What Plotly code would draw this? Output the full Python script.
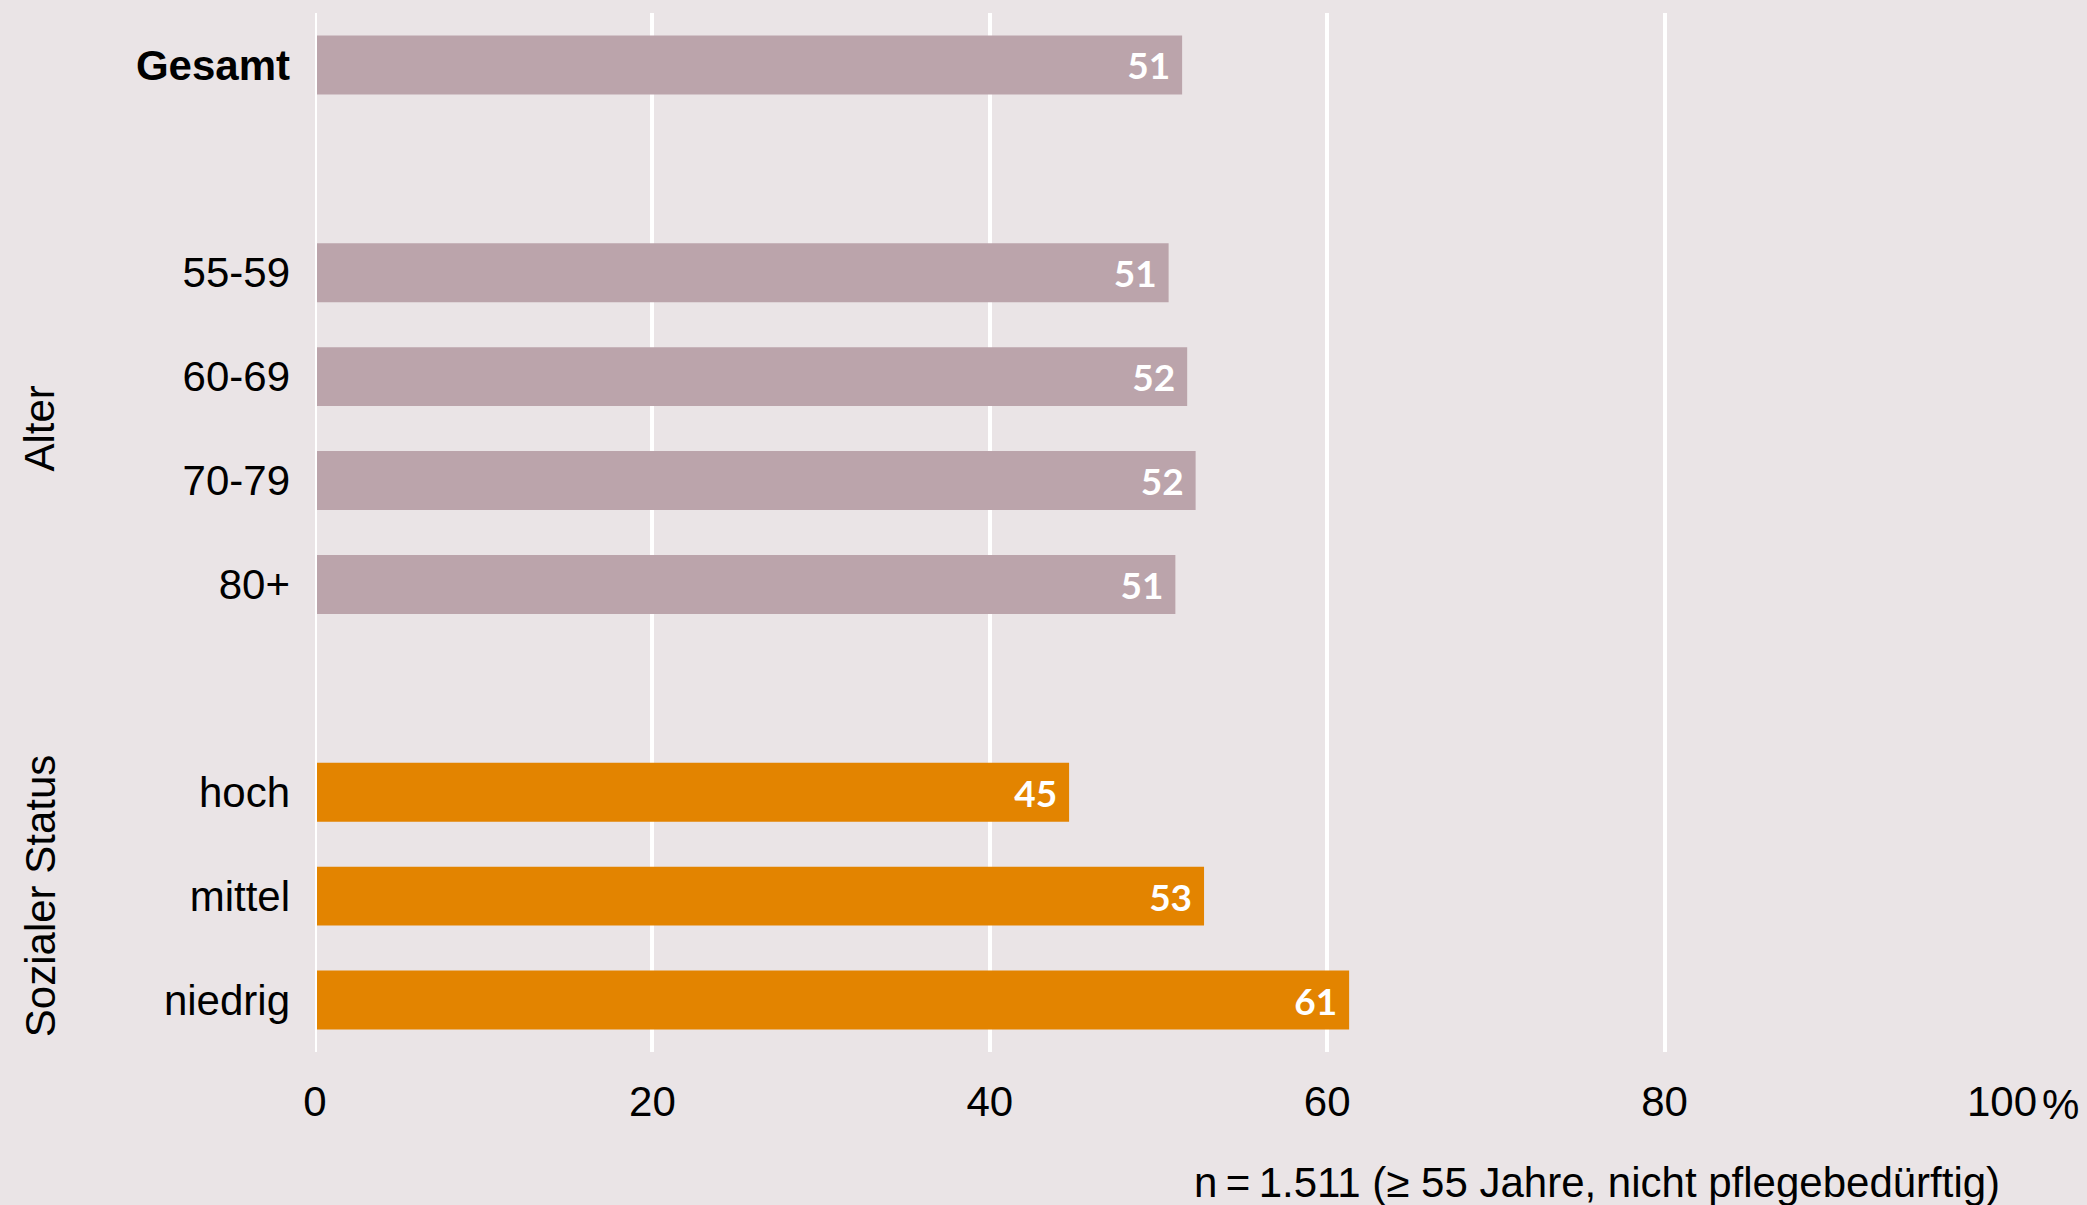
import plotly.graph_objects as go

# ---- data ----
age_categories = ["55-59", "60-69", "70-79", "80+"]
age_values = [50.6, 51.7, 52.2, 51.0]
age_labels = [51, 52, 52, 51]

status_categories = ["hoch", "mittel", "niedrig"]
status_values = [44.7, 52.7, 61.3]
status_labels = [45, 53, 61]

total_category = ["Gesamt"]
total_values = [51.4]
total_labels = [51]

group_titles = ["Alter", "Sozialer Status"]
x_tickvals = [0, 20, 40, 60, 80, 100]
x_ticktext = ["0", "20", "40", "60", "80", "100"]
note = "n\u2009=\u20091.511 (\u2265 55 Jahre, nicht pflegebedürftig)"

# ---- style ----
BG = "#EAE4E6"
MAUVE = "#BBA4AB"
ORANGE = "#E38400"
FONT = "Liberation Sans, Arial, sans-serif"
VAL_FONT = dict(family="Lato, Liberation Sans, sans-serif", size=37, color="white", weight="bold")

# category order with blank spacer slots
category_order = total_category + [" "] + age_categories + ["  "] + status_categories
tick_text = ["<b>" + c + "</b>" if c in total_category else c for c in category_order]


def bar(cats, vals, labels, color):
    return go.Bar(
        y=cats, x=vals, orientation="h",
        marker=dict(color=color, line=dict(width=0)),
        text=[f"{l}\u00a0" for l in labels],
        textposition="inside", insidetextanchor="end",
        textfont=VAL_FONT, width=0.567,
        hoverinfo="skip", showlegend=False,
    )


fig = go.Figure()
fig.add_trace(bar(total_category, total_values, total_labels, MAUVE))
fig.add_trace(bar(age_categories, age_values, age_labels, MAUVE))
fig.add_trace(bar(status_categories, status_values, status_labels, ORANGE))

top_m, bot_m = 13, 153
plot_h = 1205 - top_m - bot_m

annotations = []
# group titles
age_mid = (category_order.index(age_categories[0]) + category_order.index(age_categories[-1])) / 2
status_mid = (category_order.index(status_categories[0]) + category_order.index(status_categories[-1])) / 2
for title, ymid in zip(group_titles, [age_mid, status_mid]):
    annotations.append(dict(
        text=title, xref="paper", x=0, xshift=-275, xanchor="center",
        yref="y", y=ymid, yanchor="middle", textangle=-90, showarrow=False,
        font=dict(family=FONT, size=42, color="black"),
    ))
# percent sign after 100
annotations.append(dict(
    text="%", xref="x", x=100, xshift=38, xanchor="left",
    yref="paper", y=-52 / plot_h, yanchor="middle", showarrow=False,
    font=dict(family=FONT, size=42, color="black"),
))
# sample note
annotations.append(dict(
    text=note, xref="x", x=100, xanchor="right",
    yref="paper", y=-130 / plot_h, yanchor="middle", showarrow=False,
    font=dict(family=FONT, size=42, color="black"),
))

# zero line drawn above the bars, as in the reference
shapes = [dict(type="line", xref="x", x0=0, x1=0, yref="paper", y0=0, y1=1,
               line=dict(color="white", width=4), layer="above")]

fig.update_layout(
    width=2087, height=1205,
    margin=dict(l=315, r=85, t=top_m, b=bot_m, pad=0),
    paper_bgcolor=BG, plot_bgcolor=BG,
    font=dict(family=FONT, size=42, color="black"),
    annotations=annotations,
    shapes=shapes,
    xaxis=dict(
        range=[0, 100], tickvals=x_tickvals, ticktext=x_ticktext,
        showgrid=True, gridcolor="white", gridwidth=4,
        zeroline=False,
        showline=False, ticks="", ticklabelstandoff=21,
        tickfont=dict(family=FONT, size=42, color="black"),
        fixedrange=True,
    ),
    yaxis=dict(
        type="category", categoryorder="array", categoryarray=category_order,
        tickvals=category_order, ticktext=tick_text,
        autorange="reversed", showgrid=False, zeroline=False, showline=False,
        ticks="", ticklabelstandoff=24,
        tickfont=dict(family=FONT, size=42, color="black"),
        fixedrange=True,
    ),
)

fig.write_html("out.html")
